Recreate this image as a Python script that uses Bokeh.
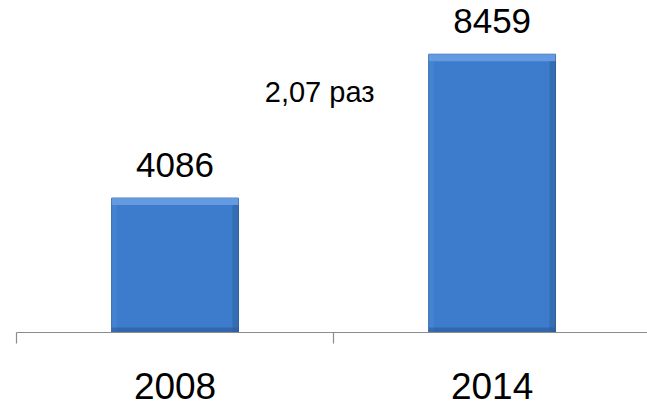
from bokeh.plotting import figure
from bokeh.models import Range1d, FixedTicker
from bokeh.core.properties import value
from bokeh.embed import file_html
from bokeh.resources import INLINE

# ---- data ----
years = ["2008", "2014"]
values = [4086, 8459]
value_labels = ["4086", "8459"]
ratio_label = "2,07 раз"

FONT = "Liberation Sans"

xs = [i + 0.5 for i in range(len(years))]
bar_w = 0.40
upx = 30.4           # data units per pixel
y_end = 332 * upx

p = figure(width=647, height=405, output_backend="svg", toolbar_location=None,
           x_range=Range1d(0, 1.99), y_range=Range1d(0, y_end),
           y_axis_type=None, min_border_left=16, min_border_right=0,
           min_border_top=0, min_border_bottom=73)
p.grid.visible = False
p.outline_line_color = None
p.background_fill_color = "white"
p.border_fill_color = "white"

# bars
p.vbar(x=xs, top=values, width=bar_w, bottom=0, fill_color="#3d7bcc",
       line_color="#2f619f", line_width=1)
# bevel effects derived from the values
xpx = 1 / 317.0
lefts = [x - bar_w / 2 for x in xs]
rights = [x + bar_w / 2 for x in xs]
p.quad(left=lefts, right=rights, top=values, bottom=[v - 7 * upx for v in values],
       fill_color="#6ea3e6", line_color=None, fill_alpha=0.8)
p.quad(left=[r - 6 * xpx for r in rights], right=rights, top=[v - 7 * upx for v in values],
       bottom=[0] * len(values), fill_color="#2e5f9e", line_color=None, fill_alpha=0.5)
p.quad(left=lefts, right=[l + 5 * xpx for l in lefts], top=[v - 7 * upx for v in values],
       bottom=[0] * len(values), fill_color="#4a88d6", line_color=None, fill_alpha=0.6)
p.quad(left=lefts, right=rights, top=[5 * upx] * len(values), bottom=[0] * len(values),
       fill_color="#2b5894", line_color=None, fill_alpha=0.55)

# value labels
p.text(x=xs, y=values, text=value_labels, y_offset=-33, text_align="center",
       text_baseline="alphabetic", text_font=value(FONT), text_font_size="35px",
       text_color="#000000")

# ratio label
p.text(x=[0.956], y=[241 * upx], text=[ratio_label], text_align="center",
       text_baseline="alphabetic", text_font=value(FONT), text_font_size="29px",
       text_color="#000000")

# x axis: ticks at category boundaries, labels centred
ax = p.xaxis[0]
ax.ticker = FixedTicker(ticks=xs, minor_ticks=[0, 1, 2])
ax.major_label_overrides = {x: yr for x, yr in zip(xs, years)}
ax.axis_line_color = "#8c8c8c"
ax.axis_line_width = 1.2
ax.minor_tick_line_color = "#8c8c8c"
ax.minor_tick_line_width = 1.2
ax.minor_tick_out = 11
ax.minor_tick_in = 0
ax.major_tick_line_color = None
ax.major_tick_out = 0
ax.major_tick_in = 0
ax.major_label_standoff = 29
ax.major_label_text_font = FONT
ax.major_label_text_font_size = "37px"
ax.major_label_text_color = "#000000"

open("out.html", "w").write(file_html(p, INLINE))
